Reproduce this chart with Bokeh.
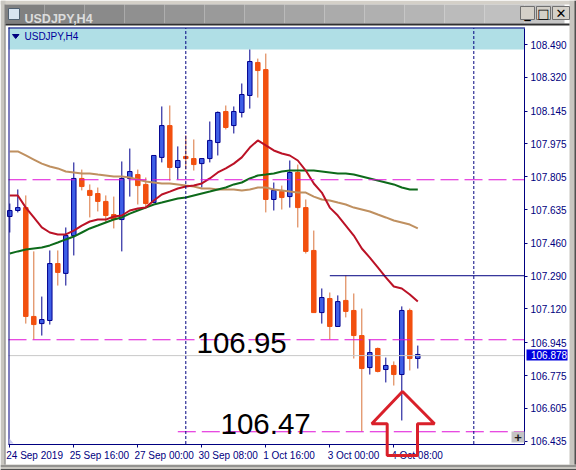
from bokeh.plotting import figure
from bokeh.embed import file_html
from bokeh.resources import INLINE
from bokeh.models import (BoxAnnotation, FixedTicker, Label, LinearAxis, NumeralTickFormatter,
                          PolyAnnotation, Range1d)

symbol = "USDJPY,H4"
opens = [107.599,107.630,107.645,107.081,107.044,107.060,107.355,107.304,107.500,107.796,107.734,107.718,107.677,107.609,
         107.583,107.796,107.816,107.765,107.671,107.905,108.070,107.853,107.910,107.899,107.873,107.899,107.982,108.143,
         108.070,108.138,108.226,108.397,108.360,107.687,107.728,107.702,107.827,107.645,107.423,107.101,107.174,107.029,
         107.164,107.112,106.982,106.816,106.915,106.806,106.827,106.780,107.112,106.863]
closes = [107.630,107.645,107.081,107.039,107.065,107.355,107.309,107.500,107.796,107.754,107.708,107.677,107.604,107.583,
          107.796,107.832,107.759,107.666,107.915,108.070,107.853,107.889,107.899,107.868,107.899,107.993,108.138,108.060,
          108.143,108.231,108.402,108.355,107.687,107.734,107.697,107.827,107.645,107.418,107.101,107.179,107.029,107.158,
          107.107,106.982,106.811,106.894,106.796,106.827,106.780,107.112,106.863,106.884]
highs = [107.666,107.739,107.708,107.418,107.184,107.423,107.423,107.542,107.879,107.842,107.765,107.749,107.708,107.702,
         107.884,107.951,107.842,107.801,107.915,108.169,108.174,107.962,108.019,107.998,107.899,108.091,108.143,108.174,
         108.169,108.288,108.464,108.417,108.443,107.775,107.759,107.889,107.868,107.687,107.526,107.226,107.205,107.190,
         107.293,107.200,107.122,106.962,106.920,106.868,106.848,107.133,107.122,106.930]
lows = [107.516,107.620,107.044,106.962,106.982,107.039,107.241,107.241,107.397,107.734,107.594,107.625,107.568,107.537,
        107.418,107.702,107.661,107.645,107.671,107.879,107.785,107.791,107.842,107.837,107.749,107.879,107.915,108.050,
        108.029,108.112,108.158,108.215,107.620,107.630,107.635,107.645,107.542,107.407,107.101,107.044,106.962,107.029,
        107.076,106.863,106.485,106.780,106.791,106.739,106.723,106.542,106.801,106.811]
ma_red = [107.708,107.708,107.645,107.594,107.542,107.516,107.506,107.506,107.526,107.552,107.573,107.583,107.583,107.599,
          107.604,107.630,107.640,107.645,107.682,107.713,107.728,107.744,107.754,107.759,107.770,107.796,107.827,107.848,
          107.873,107.905,107.956,107.993,107.967,107.941,107.925,107.915,107.889,107.837,107.770,107.723,107.645,107.604,
          107.552,107.500,107.433,107.386,107.335,107.283,107.236,107.226,107.195,107.158]
ma_green = [107.407,107.418,107.428,107.433,107.438,107.449,107.464,107.480,107.495,107.516,107.537,107.552,107.568,107.583,
            107.594,107.614,107.630,107.645,107.661,107.671,107.682,107.692,107.697,107.708,107.718,107.728,107.739,107.749,
            107.765,107.775,107.796,107.811,107.816,107.822,107.832,107.837,107.837,107.837,107.837,107.832,107.827,107.822,
            107.822,107.816,107.806,107.796,107.785,107.775,107.765,107.749,107.739,107.739]
ma_tan = [107.936,107.936,107.915,107.894,107.873,107.858,107.848,107.832,107.827,107.822,107.822,107.816,107.811,107.806,
          107.806,107.801,107.791,107.780,107.775,107.770,107.770,107.765,107.759,107.754,107.744,107.744,107.739,107.739,
          107.739,107.734,107.739,107.749,107.749,107.739,107.734,107.728,107.723,107.723,107.702,107.687,107.682,107.671,
          107.661,107.645,107.635,107.625,107.609,107.594,107.578,107.568,107.557,107.537]
price_ticks = [108.490,108.320,108.145,107.975,107.805,107.635,107.460,107.290,107.120,106.945,106.775,106.605,106.435]
date_labels = ["24 Sep 2019","25 Sep 16:00","27 Sep 00:00","30 Sep 08:00","1 Oct 16:00","3 Oct 00:00","4 Oct 08:00"]
date_ticks = [0, 8, 16, 24, 32, 40, 48]
date_label_centres = [3.1, 11.2, 19.3, 27.3, 34.9, 42.96, 50.9]
session_lines = [22, 58]
level_values = [107.7892, 106.9602, 106.4836]
level_starts = [-0.16, -0.16, 21]
resistance = 107.292
resistance_start = 40
last_price = 106.878
last_price_text = "106.878"
big_labels = ["106.95", "106.47"]
x_lo, x_hi = -0.16, 64.34
y_lo, y_hi = 106.420, 108.575

NAVY = "#000080"
idx = list(range(len(opens)))
up = [i for i in idx if closes[i] >= opens[i]]
dn = [i for i in idx if closes[i] < opens[i]]

# The frame fills the whole window, so the window chrome can be drawn as well
p = figure(width=576, height=470, output_backend="svg", toolbar_location=None,
           x_range=Range1d(-1.1625, 70.8375), y_range=Range1d(106.2828, 108.718),
           x_axis_type=None, y_axis_type=None, min_border_left=0, min_border_top=0,
           min_border_right=0, min_border_bottom=0, outline_line_color=None,
           background_fill_color="white", border_fill_color="white")
p.grid.visible = False

yax = LinearAxis(ticker=FixedTicker(ticks=price_ticks), formatter=NumeralTickFormatter(format="0.000"),
                 fixed_location=x_hi, bounds=(y_lo, y_hi),
                 axis_line_color=NAVY, major_tick_line_color=NAVY, major_tick_out=3, major_tick_in=0,
                 minor_tick_line_color=None, major_label_standoff=3, major_label_text_color=NAVY,
                 major_label_text_font="Liberation Sans", major_label_text_font_size="10px")
p.add_layout(yax, "right")

xax = LinearAxis(ticker=FixedTicker(ticks=date_label_centres, minor_ticks=date_ticks),
                 fixed_location=y_lo, bounds=(x_lo, x_hi),
                 axis_line_color=NAVY, major_tick_line_color=None, major_tick_out=0, major_tick_in=0,
                 minor_tick_line_color=NAVY, minor_tick_out=3, minor_tick_in=0, major_label_standoff=3,
                 major_label_overrides=dict(zip(date_label_centres, date_labels)),
                 major_label_text_color=NAVY, major_label_text_font="Liberation Sans",
                 major_label_text_font_size="10px")
p.add_layout(xax, "below")


def box(l, r, t, b, color, line=None, level="annotation"):
    p.add_layout(BoxAnnotation(left=l, right=r, top=t, bottom=b, left_units="canvas", right_units="canvas",
                               top_units="canvas", bottom_units="canvas", fill_color=color, fill_alpha=1,
                               line_color=line, line_alpha=1, level=level))


def label(x, y, text, color, size, font="Liberation Sans", style="normal", align="left", baseline="middle"):
    p.add_layout(Label(x=x, y=y, x_units="canvas", y_units="canvas", text=text, text_color=color,
                       text_font=font, text_font_style=style, text_font_size=size,
                       text_align=align, text_baseline=baseline))


def poly(xs, ys, **kw):
    p.add_layout(PolyAnnotation(xs=xs, ys=ys, xs_units="canvas", ys_units="canvas", **kw))


box(8, 524, 27, 49, "#b0dfe6", level="underlay")
box(8, 9, 27, 444, NAVY)
box(8, 524.5, 27, 28, NAVY)


def pick(values, keys):
    return [values[k] for k in keys]


p.segment(x0=up, x1=up, y0=pick(lows, up), y1=pick(highs, up), line_color="#00008f", line_width=1)
p.segment(x0=dn, x1=dn, y0=pick(lows, dn), y1=pick(highs, dn), line_color="#d9733a", line_width=1)
p.vbar(x=up, width=0.56, bottom=pick(opens, up), top=pick(closes, up), fill_color="#3f5fe6", line_color="#00008f", line_width=1)
p.vbar(x=dn, width=0.56, bottom=pick(closes, dn), top=pick(opens, dn), fill_color="#f2500f", line_color="#f2500f", line_width=1)

p.line(idx, ma_tan, line_color="#bf9060", line_width=2)
p.line(idx, ma_green, line_color="#0d6a1a", line_width=2)
p.line(idx, ma_red, line_color="#bb1226", line_width=2)

p.segment(x0=[x_lo], x1=[x_hi], y0=[last_price], y1=[last_price], line_color="#c8c8c8", line_width=1)
p.segment(x0=level_starts, x1=[x_hi] * 3, y0=level_values, y1=level_values,
          line_color="#e010d8", line_width=1.2, line_dash="18 6")
p.segment(x0=[resistance_start], x1=[x_hi], y0=[resistance], y1=[resistance], line_color=NAVY, line_width=1)
p.segment(x0=session_lines, x1=session_lines, y0=[y_lo] * 2, y1=[y_hi] * 2, line_color=NAVY, line_width=1, line_dash="3 2")

# arrow
poly([402, 434, 417, 417, 386.7, 386.7, 371.3], [391, 423.3, 423.3, 455, 455, 423.3, 423.3],
     fill_alpha=0, line_color="#d9202a", line_alpha=1, line_width=3)

for txt, x, base in zip(big_labels, (196, 220), (342, 423)):
    label(x, base, txt, "black", "29.5px", baseline="alphabetic")

# last price flag
box(526, 567, 349, 360, "#0000e0")
label(530.5, 354.8, last_price_text, "white", "10px")

# chart symbol label
poly([12, 18.5, 15.2], [34, 34, 38], fill_color=NAVY, fill_alpha=1, line_color=NAVY, line_alpha=1)
label(24, 36, symbol, "#00009a", "10px")

# plus button and corner mark
box(511, 524, 431, 442, "#c4c4c4")
label(517.5, 436.5, "+", "#202020", "13px", style="bold", align="center")
poly([9, 9, 13], [438, 443, 443], fill_color="#c8c8f0", fill_alpha=1, line_alpha=0)

# window frame
box(0, 576, 0, 4, "#d4d0c8")
box(0, 5, 0, 470, "#c8c6c0")
box(4, 5, 23, 465, "#808080")
box(569, 576, 0, 470, "#c8c6c0")
box(574, 576, 0, 470, "#505050")
box(0, 576, 464, 470, "#c8c6c0")
box(0, 576, 465, 466, "#606060")
box(0, 576, 468.5, 470, "#505050")

# window title bar
steps = 14
for k in range(steps):
    shade = int(128 + 70 * k / (steps - 1))
    box(4 + 40 * k, 4 + 40 * (k + 1), 4, 23, f"#{shade:02x}{shade:02x}{shade:02x}")
box(5, 569, 23, 25, "#303030")
box(8, 19, 8, 19, "#d8e4f0", "#506070")
label(24, 18, symbol, "#dcdcdc", "12.5px", style="bold", baseline="alphabetic")
for left, right, mark in ((520, 534, "_"), (536, 550, "□"), (552, 569, "✕")):
    box(left, right, 6, 19, "#d4d0c8", "#707070")
    label((left + right) / 2, 12.5, mark, "black", "13px", font="DejaVu Sans", style="bold", align="center")

open("out.html", "w").write(file_html(p, INLINE))
